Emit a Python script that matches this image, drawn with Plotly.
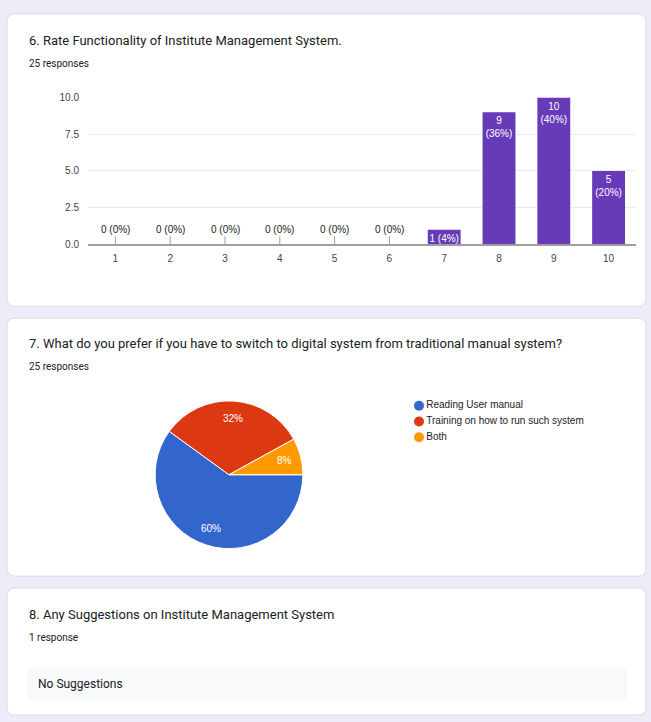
import math
import plotly.graph_objects as go

W, H = 651, 722

# ---------------- data ----------------
q6_title = "6. Rate Functionality of Institute Management System."
q6_responses = "25 responses"
ratings = ["1", "2", "3", "4", "5", "6", "7", "8", "9", "10"]
rating_counts = [0, 0, 0, 0, 0, 0, 1, 9, 10, 5]
y_ticks = [0, 2.5, 5, 7.5, 10]

q7_title = "7. What do you prefer if you have to switch to digital system from traditional manual system?"
q7_responses = "25 responses"
pref_labels = ["Reading User manual", "Training on how to run such system", "Both"]
pref_counts = [15, 8, 2]
pref_colors = ["#3366cc", "#dc3912", "#ff9900"]

q8_title = "8. Any Suggestions on Institute Management System"
q8_responses = "1 response"
q8_answers = ["No Suggestions"]

# ---------------- helpers ----------------
def px(x):
    return x / W

def py(y):
    return 1 - y / H

def rrect(x0, y0, x1, y1, r):
    pts = [
        ("M", x0 + r, y0), ("L", x1 - r, y0), ("Q", x1, y0, x1, y0 + r),
        ("L", x1, y1 - r), ("Q", x1, y1, x1 - r, y1), ("L", x0 + r, y1),
        ("Q", x0, y1, x0, y1 - r), ("L", x0, y0 + r), ("Q", x0, y0, x0 + r, y0),
    ]
    s = ""
    for p in pts:
        if p[0] == "Q":
            s += f"Q {px(p[1]):.5f},{py(p[2]):.5f} {px(p[3]):.5f},{py(p[4]):.5f} "
        else:
            s += f"{p[0]} {px(p[1]):.5f},{py(p[2]):.5f} "
    return s + "Z"

TITLE_FONT = "Roboto, 'Open Sans', sans-serif"
CHART_FONT = "'Liberation Sans', Arial, sans-serif"

fig = go.Figure()

# ---------------- bar chart ----------------
total6 = sum(rating_counts)
bar_text, bar_pos = [], []
for c in rating_counts:
    p = round(c / total6 * 100)
    if c == 0:
        bar_text.append("")
        bar_pos.append("none")
    elif c > 1:
        bar_text.append(f"{c}<br>({p}%)")
        bar_pos.append("inside")
    else:
        bar_text.append(f"{c} ({p}%)")
        bar_pos.append("inside")

fig.add_trace(go.Bar(
    x=ratings, y=rating_counts, width=0.6,
    marker=dict(color="#673ab7", line=dict(width=0)),
    text=bar_text, textposition=bar_pos, insidetextanchor="end",
    textangle=0, constraintext="none", cliponaxis=False,
    textfont=dict(color="white", size=10, family=CHART_FONT),
    showlegend=False, hoverinfo="skip",
    xaxis="x", yaxis="y",
))

annotations = []
for i, c in enumerate(rating_counts):
    if c == 0:
        p = round(c / total6 * 100)
        annotations.append(dict(
            x=i, y=c, xref="x", yref="y", text=f"{c} ({p}%)",
            showarrow=True, arrowhead=0, arrowwidth=1, arrowcolor="#9e9e9e",
            ax=0, ay=-15, standoff=0,
            font=dict(size=10, color="#222", family=CHART_FONT),
        ))

# ---------------- pie chart ----------------
PIE_CX, PIE_CY, PIE_R = 229, 476, 75
fig.add_trace(go.Pie(
    labels=pref_labels, values=pref_counts,
    marker=dict(colors=pref_colors, line=dict(color="white", width=1)),
    sort=False, direction="clockwise", rotation=90,
    textinfo="none",
    domain=dict(x=[px(PIE_CX - PIE_R), px(PIE_CX + PIE_R)],
                y=[py(PIE_CY + PIE_R), py(PIE_CY - PIE_R)]),
    showlegend=False, hoverinfo="skip",
))
# slice percentage labels placed at each slice's mid-angle
total7 = sum(pref_counts)
cum = 0
for v in pref_counts:
    mid = (cum + v / 2) / total7 * 2 * math.pi  # clockwise from east
    cum += v
    lx = PIE_CX + 0.76 * PIE_R * math.cos(mid)
    ly = PIE_CY + 0.76 * PIE_R * math.sin(mid)
    annotations.append(dict(
        x=px(lx), y=py(ly), xref="paper", yref="paper",
        text=f"{round(v / total7 * 100)}%", showarrow=False,
        xanchor="center", yanchor="middle",
        font=dict(size=10, color="white", family=CHART_FONT)))

# ---------------- legend (as scatter) ----------------
fig.add_trace(go.Scatter(
    x=[0] * len(pref_labels), y=list(range(len(pref_labels))),
    mode="markers+text", text=pref_labels, textposition="middle right",
    marker=dict(color=pref_colors, size=10, symbol="circle"),
    textfont=dict(size=10, color="#222", family=CHART_FONT),
    showlegend=False, hoverinfo="skip", cliponaxis=False,
    xaxis="x3", yaxis="y3",
))

# ---------------- cards ----------------
shapes = []
cards = [(7, 8, 646, 305), (7, 317, 646, 579), (7, 591, 646, 720)]
for (x0, y0, x1, y1) in cards:
    shapes.append(dict(type="path", path=rrect(x0, y0, x1, y1, 8),
                       xref="paper", yref="paper",
                       fillcolor="white", line=dict(color="#dadce0", width=1),
                       layer="below"))
# answer box
shapes.append(dict(type="path", path=rrect(27, 672, 627, 705, 4),
                   xref="paper", yref="paper",
                   fillcolor="#f8f9fa", line=dict(width=0), layer="below"))

def txt(x, y, s, size, color="#202124", family=TITLE_FONT):
    annotations.append(dict(x=px(x), y=py(y), xref="paper", yref="paper",
                            text=s, showarrow=False, xanchor="left", yanchor="middle",
                            font=dict(size=size, color=color, family=family)))

txt(27, 35, q6_title, 13)
txt(27, 58, q6_responses, 10)
txt(27, 343, q7_title, 13)
txt(27, 366, q7_responses, 10)
txt(27, 618, q8_title, 13)
txt(27, 641, q8_responses, 10)
for i, a in enumerate(q8_answers):
    txt(36, 688 + i * 40, a, 12)

fig.update_layout(
    width=W, height=H,
    margin=dict(l=0, r=0, t=0, b=0),
    paper_bgcolor="#f0ebf8", plot_bgcolor="rgba(0,0,0,0)",
    shapes=shapes, annotations=annotations,
    xaxis=dict(domain=[px(88), px(636)], anchor="y", type="category",
               showgrid=False, showline=True, linecolor="#9e9e9e", linewidth=2,
               ticks="", ticklabelstandoff=4, zeroline=False, fixedrange=True,
               tickfont=dict(size=10, color="#444", family=CHART_FONT)),
    yaxis=dict(domain=[py(242), py(93)], anchor="x", range=[0, 10],
               tickvals=y_ticks, tickformat=".1f",
               showgrid=True, gridcolor="#ececec", gridwidth=1,
               zeroline=False, showline=False, ticks="", ticklabelstandoff=8,
               fixedrange=True,
               tickfont=dict(size=10, color="#444", family=CHART_FONT)),
    xaxis3=dict(domain=[px(409), px(629)], anchor="y3", range=[-1, 21],
                visible=False, fixedrange=True),
    yaxis3=dict(domain=[py(446), py(398)], anchor="x3", range=[2.5, -0.5],
                visible=False, fixedrange=True),
)

fig.write_html("out.html")
